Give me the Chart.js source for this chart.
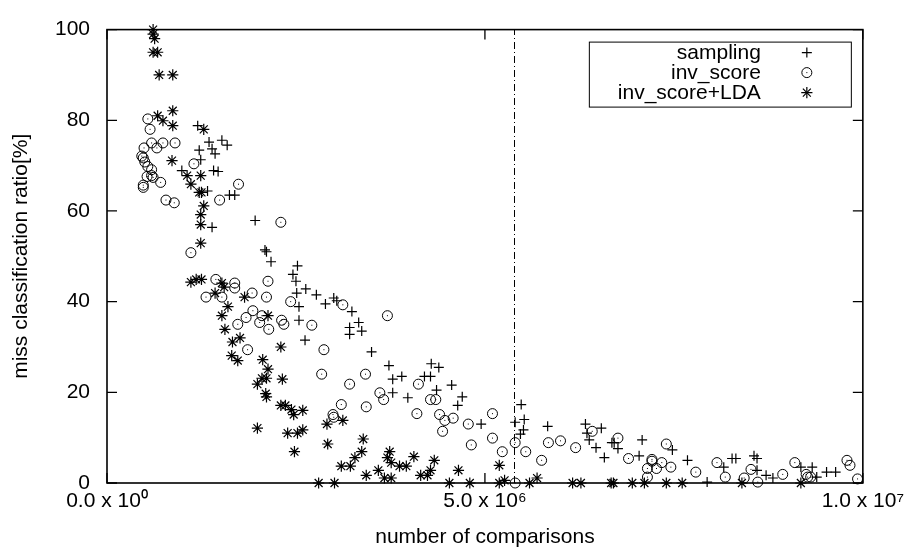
<!DOCTYPE html>
<html><head><meta charset="utf-8">
<script src="https://cdn.jsdelivr.net/npm/chart.js@4/dist/chart.umd.min.js"></script>
<style>html,body{margin:0;padding:0;background:#fff;}#wrap{width:910px;height:551px;}</style>
</head><body><div id="wrap"><canvas id="c" width="910" height="551"></canvas></div>
<script>
// ---- data ----
const seriesNames = ['sampling', 'inv_score', 'inv_score+LDA'];
const xTitle = 'number of comparisons';
const yTitle = 'miss classification ratio[%]';
const xTickValues = [0, 5e6, 1e7];
const xTickLabels = ['0.0 x 10\u2070', '5.0 x 10\u2076', '1.0 x 10\u2077'];
const yTickValues = [0, 20, 40, 60, 80, 100];
const markerX = 5.38e6;

const sampX = [1.20e6,1.35e6,1.52e6,1.59e6,1.22e6,1.39e6,1.43e6,1.24e6,0.99e6,1.41e6,1.47e6,1.33e6,1.62e6,1.69e6,1.39e6,1.96e6,2.09e6,2.11e6,2.17e6,2.52e6,2.46e6,2.50e6,2.63e6,2.51e6,2.77e6,2.89e6,3.00e6,3.04e6,2.54e6,3.24e6,2.54e6,3.33e6,3.21e6,3.21e6,3.37e6,2.62e6,3.50e6,3.73e6,4.29e6,4.39e6,3.78e6,3.90e6,4.20e6,4.28e6,4.36e6,4.56e6,3.78e6,3.98e6,4.70e6,4.64e6,4.95e6,5.48e6,5.40e6,5.52e6,5.51e6,5.47e6,5.83e6,6.33e6,6.35e6,6.38e6,6.47e6,6.54e6,6.58e6,6.68e6,6.71e6,6.76e6,7.08e6,7.04e6,7.48e6,7.68e6,7.94e6,8.16e6,8.27e6,8.32e6,8.56e6,8.60e6,8.60e6,8.72e6,8.81e6,9.18e6,9.33e6,9.39e6,9.52e6,9.64e6];
const sampY = [78.8,75.2,75.6,74.5,73.4,73.7,72.6,71.3,68.9,68.9,68.7,64.4,63.5,63.5,56.4,57.9,51.4,51.0,48.8,47.9,46.0,44.5,42.8,41.9,41.5,39.5,40.8,40.2,38.9,37.8,35.9,35.4,34.3,32.8,33.5,31.5,28.9,25.9,26.3,25.5,22.9,23.5,23.5,23.5,20.5,21.6,19.9,18.8,19.0,17.1,13.0,17.3,13.4,14.0,11.7,10.8,12.5,13.0,11.0,9.5,7.8,12.1,5.6,8.9,8.9,7.6,9.5,6.0,7.3,5.0,0.2,3.5,5.4,5.4,6.0,5.4,2.8,1.7,1.1,3.5,3.5,1.3,2.4,2.4];

const invX = [0.54e6,0.57e6,0.59e6,0.74e6,0.90e6,0.49e6,0.66e6,0.46e6,0.48e6,0.50e6,0.54e6,0.59e6,0.53e6,0.59e6,0.61e6,0.71e6,0.48e6,0.48e6,0.78e6,0.89e6,1.15e6,1.49e6,1.74e6,2.30e6,1.11e6,1.44e6,1.69e6,1.69e6,1.31e6,1.52e6,1.92e6,2.13e6,2.11e6,2.43e6,3.12e6,1.93e6,2.05e6,2.02e6,2.31e6,2.34e6,2.14e6,2.71e6,3.71e6,1.84e6,1.73e6,1.86e6,2.87e6,2.84e6,3.42e6,3.21e6,3.61e6,3.66e6,4.12e6,4.28e6,4.35e6,3.10e6,3.43e6,2.99e6,3.00e6,4.10e6,4.40e6,4.47e6,4.58e6,4.44e6,4.78e6,4.82e6,5.10e6,5.10e6,5.23e6,5.40e6,5.40e6,5.54e6,5.75e6,5.84e6,6.00e6,6.20e6,6.42e6,6.76e6,6.90e6,7.21e6,7.21e6,7.15e6,7.15e6,7.27e6,7.34e6,7.40e6,7.46e6,7.79e6,8.07e6,8.18e6,8.43e6,8.52e6,8.61e6,8.94e6,9.10e6,9.25e6,9.27e6,9.31e6,9.79e6,9.83e6,9.93e6];
const invY = [80.3,78.0,75.0,75.0,75.0,73.9,73.9,72.1,71.7,70.8,69.8,69.1,67.6,67.8,67.4,66.3,65.7,65.2,62.4,61.8,70.4,62.4,65.9,57.5,50.8,44.9,44.1,43.0,41.0,41.0,41.9,44.5,41.0,40.0,39.3,38.0,36.9,35.4,35.9,35.0,33.9,34.8,36.9,36.5,35.0,29.4,29.4,24.0,24.0,21.8,19.9,18.4,21.8,18.4,18.4,17.3,16.8,15.1,14.5,15.3,15.1,13.8,14.3,11.4,13.0,8.4,15.3,9.9,6.9,8.9,0.0,6.9,5.0,8.9,9.3,7.8,11.4,9.9,5.4,5.2,4.8,3.2,1.3,3.2,4.5,8.6,3.5,2.4,4.5,1.3,1.1,3.0,0.2,1.9,4.5,1.9,1.3,1.3,5.0,3.9,0.9];

const ldaX = [0.61e6,0.61e6,0.63e6,0.61e6,0.67e6,0.69e6,0.87e6,0.67e6,0.87e6,0.74e6,0.87e6,1.28e6,0.86e6,1.06e6,1.24e6,1.11e6,1.22e6,1.25e6,1.28e6,1.24e6,1.24e6,1.24e6,1.11e6,1.18e6,1.25e6,1.52e6,1.43e6,1.55e6,1.60e6,1.82e6,1.52e6,1.56e6,1.66e6,1.76e6,2.13e6,2.30e6,1.65e6,1.73e6,2.06e6,2.13e6,2.05e6,1.99e6,2.11e6,2.32e6,2.10e6,2.11e6,2.30e6,2.36e6,2.44e6,2.47e6,2.59e6,1.99e6,2.39e6,2.52e6,2.59e6,2.48e6,2.91e6,3.12e6,2.92e6,3.39e6,3.37e6,3.28e6,3.10e6,3.22e6,3.43e6,3.59e6,3.74e6,3.71e6,3.76e6,3.87e6,3.96e6,4.06e6,3.67e6,3.76e6,4.15e6,4.24e6,4.28e6,4.33e6,4.65e6,5.19e6,2.80e6,3.01e6,4.53e6,4.80e6,5.19e6,5.26e6,5.59e6,5.69e6,6.16e6,6.27e6,6.67e6,6.70e6,6.95e6,7.11e6,7.40e6,7.61e6,8.40e6,9.18e6];
const ldaY = [100,99,98,95,95,90,90,81,82.1,79.9,78.8,78,71.1,67.8,67.8,65.9,64.1,64.1,61.1,59.2,57,52.9,44.3,44.9,44.9,44.1,41.9,43.2,38.9,41.0,36.9,33.9,31.1,32.0,36.9,30.0,28.1,27.0,27.2,25.1,23.1,21.8,23.1,22.9,19.7,19.0,17.1,17.1,16.2,15.1,16.0,12.1,11.0,11.0,11.7,6.9,13.0,13.8,8.6,9.7,6.9,5.6,3.7,3.7,1.7,2.8,6.9,5.6,4.5,3.7,3.7,5.8,1.1,1.1,1.7,1.7,2.8,5.0,2.8,3.9,0,0,0,0,0,0.6,0,1.1,0,0,0,0,0,0,0,0,0,0];

// ---- styling ----
const FONT = '"Liberation Sans", Arial, Helvetica, sans-serif';
const FS = 21;
const R = 5;
const RS = 5.6;

const toPts = (xs, ys) => xs.map((x, i) => ({x: x, y: ys[i]}));

function drawPlus(ctx, x, y, r){ ctx.beginPath(); ctx.moveTo(x-r,y); ctx.lineTo(x+r,y); ctx.moveTo(x,y-r); ctx.lineTo(x,y+r); ctx.stroke(); }
function drawStar(ctx, x, y, r){ drawPlus(ctx,x,y,r); const d=r*Math.SQRT1_2; ctx.beginPath(); ctx.moveTo(x-d,y-d); ctx.lineTo(x+d,y+d); ctx.moveTo(x-d,y+d); ctx.lineTo(x+d,y-d); ctx.stroke(); }
function drawCircleDot(ctx, x, y, r){ ctx.beginPath(); ctx.arc(x, y, r, 0, Math.PI*2); ctx.stroke(); ctx.fillRect(x-0.5, y-0.5, 1, 1); }

const decor = {
  id: 'decor',
  beforeDatasetsDraw(chart){
    const {ctx, chartArea: a, scales: {x, y}} = chart;
    ctx.save();
    ctx.strokeStyle = '#000';
    const mx = Math.round(x.getPixelForValue(markerX)) + 0.5;
    ctx.lineWidth = 1;
    ctx.setLineDash([7, 3, 1, 3]);
    ctx.beginPath(); ctx.moveTo(mx, a.bottom); ctx.lineTo(mx, a.top); ctx.stroke();
    ctx.setLineDash([]);
    ctx.lineWidth = 1.3;
    ctx.beginPath();
    yTickValues.forEach(v => {
      const py = y.getPixelForValue(v);
      ctx.moveTo(a.left, py); ctx.lineTo(a.left + 10, py);
      ctx.moveTo(a.right, py); ctx.lineTo(a.right - 10, py);
    });
    xTickValues.forEach(v => {
      const px = x.getPixelForValue(v);
      ctx.moveTo(px, a.bottom); ctx.lineTo(px, a.bottom - 10);
      ctx.moveTo(px, a.top); ctx.lineTo(px, a.top + 10);
    });
    ctx.stroke();
    ctx.lineWidth = 1.6;
    ctx.strokeRect(a.left, a.top, a.right - a.left, a.bottom - a.top);
    ctx.restore();
  },
  afterDatasetsDraw(chart){
    const ctx = chart.ctx;
    ctx.save();
    ctx.fillStyle = '#000';
    chart.getDatasetMeta(1).data.forEach(el => { ctx.fillRect(el.x - 0.5, el.y - 0.5, 1, 1); });
    ctx.restore();
  },
  afterDraw(chart){
    const {ctx, chartArea: a} = chart;
    ctx.save();
    const bx = a.right - 12 - 262, by = a.top + 12, bw = 262, bh = 65;
    ctx.strokeStyle = '#000'; ctx.fillStyle = '#000'; ctx.lineWidth = 1;
    ctx.strokeRect(bx + 0.5, by + 0.5, bw, bh);
    ctx.font = FS + 'px ' + FONT;
    ctx.textAlign = 'right'; ctx.textBaseline = 'middle';
    chart.data.datasets.forEach((ds, i) => {
      const ry = by + 11 + i * 20;
      ctx.fillText(ds.label, a.right - 102, ry + 1);
      const sx = a.right - 56;
      ctx.lineWidth = i === 1 ? 1 : 1.2;
      if (i === 0) drawPlus(ctx, sx, ry, R);
      else if (i === 1) drawCircleDot(ctx, sx, ry, R);
      else drawStar(ctx, sx, ry, RS);
    });
    ctx.restore();
  }
};

const common = {showLine: false, pointBorderColor: '#000', pointBackgroundColor: 'rgba(0,0,0,0)', borderColor: '#000', clip: false};

new Chart(document.getElementById('c'), {
  type: 'scatter',
  data: { datasets: [
    Object.assign({label: seriesNames[0], data: toPts(sampX, sampY), pointStyle: 'cross', pointRadius: R, pointHoverRadius: R, pointBorderWidth: 1.2}, common),
    Object.assign({label: seriesNames[1], data: toPts(invX, invY), pointStyle: 'circle', pointRadius: R, pointHoverRadius: R, pointBorderWidth: 1}, common),
    Object.assign({label: seriesNames[2], data: toPts(ldaX, ldaY), pointStyle: 'star', pointRadius: RS, pointHoverRadius: RS, pointBorderWidth: 1.2}, common)
  ]},
  options: {
    responsive: false, animation: false, devicePixelRatio: 1, events: [],
    layout: {padding: {top: 20, right: 46, left: 0, bottom: 0}},
    plugins: {legend: {display: false}, tooltip: {enabled: false}},
    scales: {
      x: {
        type: 'linear', min: 0, max: 1e7,
        afterBuildTicks: s => { s.ticks = xTickValues.map(v => ({value: v})); },
        afterFit: s => { s.height = 68; },
        grid: {display: false, drawTicks: false}, border: {display: false},
        ticks: {autoSkip: false, maxRotation: 0, padding: 6, color: '#000', font: {family: FONT, size: FS},
          callback: (v) => { const i = xTickValues.indexOf(v); return i >= 0 ? xTickLabels[i] : ''; }},
        title: {display: true, text: xTitle, color: '#000', font: {family: FONT, size: FS}, padding: {top: 0, bottom: 1}}
      },
      y: {
        type: 'linear', min: 0, max: 100,
        afterBuildTicks: s => { s.ticks = yTickValues.map(v => ({value: v})); },
        afterFit: s => { s.width = 107; },
        grid: {display: false, drawTicks: false}, border: {display: false},
        ticks: {autoSkip: false, padding: 17, color: '#000', font: {family: FONT, size: FS}},
        title: {display: true, text: yTitle, color: '#000', font: {family: FONT, size: FS}, padding: {top: 9, bottom: 0}}
      }
    }
  },
  plugins: [decor]
});
</script>
</body></html>
